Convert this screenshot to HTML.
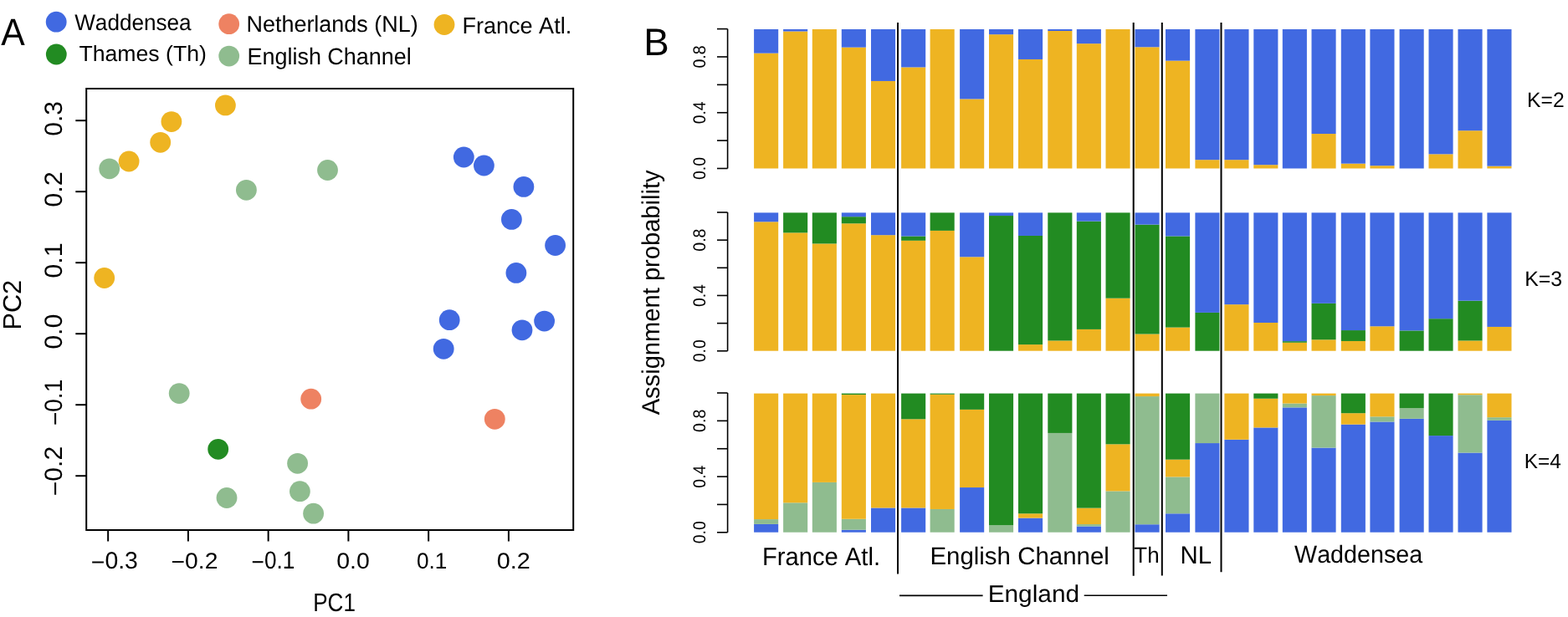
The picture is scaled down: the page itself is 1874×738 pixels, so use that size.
<!DOCTYPE html>
<html><head><meta charset="utf-8"><title>Figure</title>
<style>
html,body{margin:0;padding:0;background:#fff;}
body{width:1874px;height:738px;overflow:hidden;}
svg{display:block;font-family:"Liberation Sans",Arial,Helvetica,sans-serif;font-kerning:none;text-rendering:geometricPrecision;}
svg text{font-kerning:none;}
</style></head><body>
<svg width="1874" height="738" viewBox="0 0 1874 738">
<text transform="translate(1.22,54.00) scale(0.9381,1)" font-size="45.49" fill="#000">A</text>
<circle cx="67.2" cy="26.2" r="12.4" fill="#4169E1"/>
<circle cx="67.3" cy="65.0" r="12.4" fill="#228B22"/>
<circle cx="273.7" cy="28.7" r="12.4" fill="#EE8262"/>
<circle cx="273.7" cy="67.1" r="12.4" fill="#8FBC8F"/>
<circle cx="531.0" cy="29.5" r="12.4" fill="#EEB422"/>
<text transform="translate(89.19,35.70) scale(0.9716,1)" font-size="26.90" fill="#000">Waddensea</text>
<text transform="translate(94.40,73.30) scale(1.0120,1)" font-size="26.34" fill="#000">Thames (Th)</text>
<text transform="translate(294.49,38.00) scale(0.9860,1)" font-size="27.33" fill="#000">Netherlands (NL)</text>
<text transform="translate(295.49,77.00) scale(0.9663,1)" font-size="27.90" fill="#000">English Channel</text>
<text transform="translate(552.48,39.70) scale(0.9839,1)" font-size="27.47" fill="#000">France Atl.</text>
<rect x="103.2" y="106" width="582" height="528" fill="none" stroke="#000" stroke-width="2"/>
<line x1="129.15" y1="634" x2="129.15" y2="647.5" stroke="#000" stroke-width="2"/>
<line x1="224.9" y1="634" x2="224.9" y2="647.5" stroke="#000" stroke-width="2"/>
<line x1="320.65" y1="634" x2="320.65" y2="647.5" stroke="#000" stroke-width="2"/>
<line x1="416.4" y1="634" x2="416.4" y2="647.5" stroke="#000" stroke-width="2"/>
<line x1="512.15" y1="634" x2="512.15" y2="647.5" stroke="#000" stroke-width="2"/>
<line x1="607.9" y1="634" x2="607.9" y2="647.5" stroke="#000" stroke-width="2"/>
<line x1="90.3" y1="569.2" x2="103.2" y2="569.2" stroke="#000" stroke-width="2"/>
<line x1="90.3" y1="484.2" x2="103.2" y2="484.2" stroke="#000" stroke-width="2"/>
<line x1="90.3" y1="399.2" x2="103.2" y2="399.2" stroke="#000" stroke-width="2"/>
<line x1="90.3" y1="314.2" x2="103.2" y2="314.2" stroke="#000" stroke-width="2"/>
<line x1="90.3" y1="229.2" x2="103.2" y2="229.2" stroke="#000" stroke-width="2"/>
<line x1="90.3" y1="144.2" x2="103.2" y2="144.2" stroke="#000" stroke-width="2"/>
<text transform="translate(108.80,680.30) scale(0.9962,1)" font-size="28.50" fill="#000"><tspan dy="1.6">−</tspan><tspan dy="-1.6">0.3</tspan></text>
<text transform="translate(204.61,679.80) scale(1.0501,1)" font-size="26.92" fill="#000"><tspan dy="1.6">−</tspan><tspan dy="-1.6">0.2</tspan></text>
<text transform="translate(300.61,680.10) scale(0.8871,1)" font-size="29.50" fill="#000"><tspan dy="1.6">−</tspan><tspan dy="-1.6">0.1</tspan></text>
<text transform="translate(402.29,679.80) scale(1.0559,1)" font-size="26.92" fill="#000">0.0</text>
<text transform="translate(497.88,679.80) scale(0.9725,1)" font-size="26.92" fill="#000">0.1</text>
<text transform="translate(593.68,679.80) scale(1.0679,1)" font-size="26.92" fill="#000">0.2</text>
<text transform="translate(374.27,730.80) scale(0.8522,1)" font-size="30.52" fill="#000">PC1</text>
<text transform="translate(74.20,162.67) rotate(-90) scale(1.0067,1)" font-size="29.79" fill="#000">0.3</text>
<text transform="translate(74.20,247.80) rotate(-90) scale(1.0271,1)" font-size="29.79" fill="#000">0.2</text>
<text transform="translate(74.20,332.79) rotate(-90) scale(1.0260,1)" font-size="29.79" fill="#000">0.1</text>
<text transform="translate(74.20,417.78) rotate(-90) scale(1.0183,1)" font-size="29.79" fill="#000">0.0</text>
<text transform="translate(74.20,508.98) rotate(-90) scale(0.9377,1)" font-size="29.79" fill="#000"><tspan dy="1.6">−</tspan><tspan dy="-1.6">0.1</tspan></text>
<text transform="translate(74.20,593.28) rotate(-90) scale(1.0100,1)" font-size="29.79" fill="#000"><tspan dy="1.6">−</tspan><tspan dy="-1.6">0.2</tspan></text>
<text transform="translate(25.00,394.51) rotate(-90) scale(1.0029,1)" font-size="30.52" fill="#000">PC2</text>
<circle cx="269.4" cy="125.9" r="12.4" fill="#EEB422"/>
<circle cx="204.9" cy="145.6" r="12.4" fill="#EEB422"/>
<circle cx="191.7" cy="170.3" r="12.4" fill="#EEB422"/>
<circle cx="154.1" cy="193.0" r="12.4" fill="#EEB422"/>
<circle cx="124.7" cy="332.5" r="12.4" fill="#EEB422"/>
<circle cx="130.7" cy="201.8" r="12.4" fill="#8FBC8F"/>
<circle cx="294.4" cy="227.3" r="12.4" fill="#8FBC8F"/>
<circle cx="391.5" cy="203.5" r="12.4" fill="#8FBC8F"/>
<circle cx="214.2" cy="470.6" r="12.4" fill="#8FBC8F"/>
<circle cx="355.6" cy="554.3" r="12.4" fill="#8FBC8F"/>
<circle cx="358.4" cy="587.7" r="12.4" fill="#8FBC8F"/>
<circle cx="271.0" cy="595.5" r="12.4" fill="#8FBC8F"/>
<circle cx="374.6" cy="614.2" r="12.4" fill="#8FBC8F"/>
<circle cx="260.7" cy="537.3" r="12.4" fill="#228B22"/>
<circle cx="371.7" cy="477.2" r="12.4" fill="#EE8262"/>
<circle cx="591.3" cy="501.3" r="12.4" fill="#EE8262"/>
<circle cx="554.3" cy="188.0" r="12.4" fill="#4169E1"/>
<circle cx="578.4" cy="198.0" r="12.4" fill="#4169E1"/>
<circle cx="625.9" cy="223.4" r="12.4" fill="#4169E1"/>
<circle cx="611.4" cy="262.4" r="12.4" fill="#4169E1"/>
<circle cx="663.6" cy="293.5" r="12.4" fill="#4169E1"/>
<circle cx="616.9" cy="326.4" r="12.4" fill="#4169E1"/>
<circle cx="537.2" cy="382.7" r="12.4" fill="#4169E1"/>
<circle cx="530.2" cy="417.3" r="12.4" fill="#4169E1"/>
<circle cx="624.0" cy="394.8" r="12.4" fill="#4169E1"/>
<circle cx="650.6" cy="384.1" r="12.4" fill="#4169E1"/>
<text transform="translate(769.25,66.30) scale(0.9972,1)" font-size="45.79" fill="#000">B</text>
<rect x="901.10" y="63.64" width="29.10" height="137.86" fill="#EEB422"/>
<rect x="901.10" y="35.00" width="29.10" height="28.64" fill="#4169E1"/>
<rect x="901.10" y="265.31" width="29.10" height="154.39" fill="#EEB422"/>
<rect x="901.10" y="254.40" width="29.10" height="10.91" fill="#4169E1"/>
<rect x="901.10" y="626.90" width="29.10" height="9.80" fill="#4169E1"/>
<rect x="901.10" y="621.09" width="29.10" height="5.81" fill="#8FBC8F"/>
<rect x="901.10" y="470.60" width="29.10" height="150.49" fill="#EEB422"/>
<rect x="936.10" y="37.50" width="29.10" height="164.00" fill="#EEB422"/>
<rect x="936.10" y="35.00" width="29.10" height="2.50" fill="#4169E1"/>
<rect x="936.10" y="278.37" width="29.10" height="141.33" fill="#EEB422"/>
<rect x="936.10" y="254.40" width="29.10" height="23.97" fill="#228B22"/>
<rect x="936.10" y="601.32" width="29.10" height="35.38" fill="#8FBC8F"/>
<rect x="936.10" y="470.60" width="29.10" height="130.72" fill="#EEB422"/>
<rect x="970.80" y="35.00" width="29.10" height="166.50" fill="#EEB422"/>
<rect x="970.80" y="291.43" width="29.10" height="128.27" fill="#EEB422"/>
<rect x="970.80" y="254.40" width="29.10" height="37.03" fill="#228B22"/>
<rect x="970.80" y="576.90" width="29.10" height="59.80" fill="#8FBC8F"/>
<rect x="970.80" y="470.60" width="29.10" height="106.30" fill="#EEB422"/>
<rect x="1005.80" y="56.65" width="29.10" height="144.85" fill="#EEB422"/>
<rect x="1005.80" y="35.00" width="29.10" height="21.64" fill="#4169E1"/>
<rect x="1005.80" y="267.29" width="29.10" height="152.41" fill="#EEB422"/>
<rect x="1005.80" y="259.19" width="29.10" height="8.10" fill="#228B22"/>
<rect x="1005.80" y="254.40" width="29.10" height="4.79" fill="#4169E1"/>
<rect x="1005.80" y="633.71" width="29.10" height="2.99" fill="#4169E1"/>
<rect x="1005.80" y="620.77" width="29.10" height="12.94" fill="#8FBC8F"/>
<rect x="1005.80" y="472.09" width="29.10" height="148.68" fill="#EEB422"/>
<rect x="1005.80" y="470.60" width="29.10" height="1.49" fill="#228B22"/>
<rect x="1041.00" y="96.94" width="29.10" height="104.56" fill="#EEB422"/>
<rect x="1041.00" y="35.00" width="29.10" height="61.94" fill="#4169E1"/>
<rect x="1041.00" y="281.18" width="29.10" height="138.52" fill="#EEB422"/>
<rect x="1041.00" y="254.40" width="29.10" height="26.78" fill="#4169E1"/>
<rect x="1041.00" y="607.47" width="29.10" height="29.23" fill="#4169E1"/>
<rect x="1041.00" y="470.60" width="29.10" height="136.87" fill="#EEB422"/>
<rect x="1077.10" y="80.45" width="29.10" height="121.05" fill="#EEB422"/>
<rect x="1077.10" y="35.00" width="29.10" height="45.45" fill="#4169E1"/>
<rect x="1077.10" y="287.79" width="29.10" height="131.91" fill="#EEB422"/>
<rect x="1077.10" y="282.50" width="29.10" height="5.29" fill="#228B22"/>
<rect x="1077.10" y="254.40" width="29.10" height="28.10" fill="#4169E1"/>
<rect x="1077.10" y="607.47" width="29.10" height="29.23" fill="#4169E1"/>
<rect x="1077.10" y="501.33" width="29.10" height="106.14" fill="#EEB422"/>
<rect x="1077.10" y="470.60" width="29.10" height="30.73" fill="#228B22"/>
<rect x="1111.60" y="35.00" width="29.10" height="166.50" fill="#EEB422"/>
<rect x="1111.60" y="275.89" width="29.10" height="143.81" fill="#EEB422"/>
<rect x="1111.60" y="254.40" width="29.10" height="21.49" fill="#228B22"/>
<rect x="1111.60" y="608.96" width="29.10" height="27.74" fill="#8FBC8F"/>
<rect x="1111.60" y="471.76" width="29.10" height="137.20" fill="#EEB422"/>
<rect x="1111.60" y="470.60" width="29.10" height="1.16" fill="#228B22"/>
<rect x="1147.10" y="118.42" width="29.10" height="83.08" fill="#EEB422"/>
<rect x="1147.10" y="35.00" width="29.10" height="83.42" fill="#4169E1"/>
<rect x="1147.10" y="307.30" width="29.10" height="112.40" fill="#EEB422"/>
<rect x="1147.10" y="254.40" width="29.10" height="52.90" fill="#4169E1"/>
<rect x="1147.10" y="583.05" width="29.10" height="53.65" fill="#4169E1"/>
<rect x="1147.10" y="489.87" width="29.10" height="93.18" fill="#EEB422"/>
<rect x="1147.10" y="470.60" width="29.10" height="19.27" fill="#228B22"/>
<rect x="1182.00" y="41.16" width="29.10" height="160.34" fill="#EEB422"/>
<rect x="1182.00" y="35.00" width="29.10" height="6.16" fill="#4169E1"/>
<rect x="1182.00" y="258.04" width="29.10" height="161.66" fill="#228B22"/>
<rect x="1182.00" y="254.40" width="29.10" height="3.64" fill="#4169E1"/>
<rect x="1182.00" y="628.23" width="29.10" height="8.47" fill="#8FBC8F"/>
<rect x="1182.00" y="470.60" width="29.10" height="157.63" fill="#228B22"/>
<rect x="1217.00" y="70.96" width="29.10" height="130.54" fill="#EEB422"/>
<rect x="1217.00" y="35.00" width="29.10" height="35.96" fill="#4169E1"/>
<rect x="1217.00" y="412.10" width="29.10" height="7.60" fill="#EEB422"/>
<rect x="1217.00" y="281.98" width="29.10" height="130.13" fill="#228B22"/>
<rect x="1217.00" y="254.40" width="29.10" height="27.58" fill="#4169E1"/>
<rect x="1217.00" y="619.59" width="29.10" height="17.11" fill="#4169E1"/>
<rect x="1217.00" y="614.28" width="29.10" height="5.32" fill="#EEB422"/>
<rect x="1217.00" y="470.60" width="29.10" height="143.68" fill="#228B22"/>
<rect x="1252.30" y="37.00" width="29.10" height="164.50" fill="#EEB422"/>
<rect x="1252.30" y="35.00" width="29.10" height="2.00" fill="#4169E1"/>
<rect x="1252.30" y="407.47" width="29.10" height="12.23" fill="#EEB422"/>
<rect x="1252.30" y="254.40" width="29.10" height="153.07" fill="#228B22"/>
<rect x="1252.30" y="517.94" width="29.10" height="118.76" fill="#8FBC8F"/>
<rect x="1252.30" y="470.60" width="29.10" height="47.34" fill="#228B22"/>
<rect x="1286.80" y="52.15" width="29.10" height="149.35" fill="#EEB422"/>
<rect x="1286.80" y="35.00" width="29.10" height="17.15" fill="#4169E1"/>
<rect x="1286.80" y="393.91" width="29.10" height="25.79" fill="#EEB422"/>
<rect x="1286.80" y="264.65" width="29.10" height="129.26" fill="#228B22"/>
<rect x="1286.80" y="254.40" width="29.10" height="10.25" fill="#4169E1"/>
<rect x="1286.80" y="629.56" width="29.10" height="7.14" fill="#4169E1"/>
<rect x="1286.80" y="627.07" width="29.10" height="2.49" fill="#8FBC8F"/>
<rect x="1286.80" y="607.63" width="29.10" height="19.43" fill="#EEB422"/>
<rect x="1286.80" y="470.60" width="29.10" height="137.03" fill="#228B22"/>
<rect x="1321.50" y="35.00" width="29.10" height="166.50" fill="#EEB422"/>
<rect x="1321.50" y="356.72" width="29.10" height="62.98" fill="#EEB422"/>
<rect x="1321.50" y="254.40" width="29.10" height="102.32" fill="#228B22"/>
<rect x="1321.50" y="587.42" width="29.10" height="49.28" fill="#8FBC8F"/>
<rect x="1321.50" y="531.33" width="29.10" height="56.09" fill="#EEB422"/>
<rect x="1321.50" y="470.60" width="29.10" height="60.73" fill="#228B22"/>
<rect x="1356.50" y="56.31" width="29.10" height="145.19" fill="#EEB422"/>
<rect x="1356.50" y="35.00" width="29.10" height="21.31" fill="#4169E1"/>
<rect x="1356.50" y="399.53" width="29.10" height="20.17" fill="#EEB422"/>
<rect x="1356.50" y="268.62" width="29.10" height="130.92" fill="#228B22"/>
<rect x="1356.50" y="254.40" width="29.10" height="14.22" fill="#4169E1"/>
<rect x="1356.50" y="627.23" width="29.10" height="9.47" fill="#4169E1"/>
<rect x="1356.50" y="474.09" width="29.10" height="153.14" fill="#8FBC8F"/>
<rect x="1356.50" y="470.60" width="29.10" height="3.49" fill="#EEB422"/>
<rect x="1393.00" y="72.63" width="29.10" height="128.87" fill="#EEB422"/>
<rect x="1393.00" y="35.00" width="29.10" height="37.63" fill="#4169E1"/>
<rect x="1393.00" y="391.63" width="29.10" height="28.07" fill="#EEB422"/>
<rect x="1393.00" y="282.47" width="29.10" height="109.15" fill="#228B22"/>
<rect x="1393.00" y="254.40" width="29.10" height="28.07" fill="#4169E1"/>
<rect x="1393.00" y="614.28" width="29.10" height="22.42" fill="#4169E1"/>
<rect x="1393.00" y="570.43" width="29.10" height="43.85" fill="#8FBC8F"/>
<rect x="1393.00" y="549.66" width="29.10" height="20.76" fill="#EEB422"/>
<rect x="1393.00" y="470.60" width="29.10" height="79.06" fill="#228B22"/>
<rect x="1428.40" y="191.18" width="29.10" height="10.32" fill="#EEB422"/>
<rect x="1428.40" y="35.00" width="29.10" height="156.18" fill="#4169E1"/>
<rect x="1428.40" y="373.91" width="29.10" height="45.79" fill="#228B22"/>
<rect x="1428.40" y="254.40" width="29.10" height="119.51" fill="#4169E1"/>
<rect x="1428.40" y="530.06" width="29.10" height="106.64" fill="#4169E1"/>
<rect x="1428.40" y="470.60" width="29.10" height="59.46" fill="#8FBC8F"/>
<rect x="1463.40" y="191.18" width="29.10" height="10.32" fill="#EEB422"/>
<rect x="1463.40" y="35.00" width="29.10" height="156.18" fill="#4169E1"/>
<rect x="1463.40" y="364.16" width="29.10" height="55.54" fill="#EEB422"/>
<rect x="1463.40" y="254.40" width="29.10" height="109.76" fill="#4169E1"/>
<rect x="1463.40" y="525.75" width="29.10" height="110.95" fill="#4169E1"/>
<rect x="1463.40" y="470.60" width="29.10" height="55.15" fill="#EEB422"/>
<rect x="1498.30" y="197.17" width="29.10" height="4.33" fill="#EEB422"/>
<rect x="1498.30" y="35.00" width="29.10" height="162.17" fill="#4169E1"/>
<rect x="1498.30" y="385.98" width="29.10" height="33.72" fill="#EEB422"/>
<rect x="1498.30" y="254.40" width="29.10" height="131.58" fill="#4169E1"/>
<rect x="1498.30" y="511.42" width="29.10" height="125.28" fill="#4169E1"/>
<rect x="1498.30" y="476.74" width="29.10" height="34.68" fill="#EEB422"/>
<rect x="1498.30" y="470.60" width="29.10" height="6.14" fill="#228B22"/>
<rect x="1532.80" y="35.00" width="29.10" height="166.50" fill="#4169E1"/>
<rect x="1532.80" y="409.77" width="29.10" height="9.93" fill="#EEB422"/>
<rect x="1532.80" y="408.12" width="29.10" height="1.65" fill="#228B22"/>
<rect x="1532.80" y="254.40" width="29.10" height="153.72" fill="#4169E1"/>
<rect x="1532.80" y="487.38" width="29.10" height="149.32" fill="#4169E1"/>
<rect x="1532.80" y="482.56" width="29.10" height="4.82" fill="#8FBC8F"/>
<rect x="1532.80" y="470.60" width="29.10" height="11.96" fill="#EEB422"/>
<rect x="1567.50" y="160.04" width="29.10" height="41.46" fill="#EEB422"/>
<rect x="1567.50" y="35.00" width="29.10" height="125.04" fill="#4169E1"/>
<rect x="1567.50" y="406.31" width="29.10" height="13.39" fill="#EEB422"/>
<rect x="1567.50" y="362.84" width="29.10" height="43.47" fill="#228B22"/>
<rect x="1567.50" y="254.40" width="29.10" height="108.44" fill="#4169E1"/>
<rect x="1567.50" y="535.55" width="29.10" height="101.15" fill="#4169E1"/>
<rect x="1567.50" y="473.09" width="29.10" height="62.45" fill="#8FBC8F"/>
<rect x="1567.50" y="470.60" width="29.10" height="2.49" fill="#EEB422"/>
<rect x="1602.80" y="195.67" width="29.10" height="5.83" fill="#EEB422"/>
<rect x="1602.80" y="35.00" width="29.10" height="160.67" fill="#4169E1"/>
<rect x="1602.80" y="407.96" width="29.10" height="11.74" fill="#EEB422"/>
<rect x="1602.80" y="395.07" width="29.10" height="12.89" fill="#228B22"/>
<rect x="1602.80" y="254.40" width="29.10" height="140.67" fill="#4169E1"/>
<rect x="1602.80" y="507.64" width="29.10" height="129.06" fill="#4169E1"/>
<rect x="1602.80" y="494.19" width="29.10" height="13.45" fill="#EEB422"/>
<rect x="1602.80" y="470.60" width="29.10" height="23.59" fill="#228B22"/>
<rect x="1637.40" y="198.17" width="29.10" height="3.33" fill="#EEB422"/>
<rect x="1637.40" y="35.00" width="29.10" height="163.17" fill="#4169E1"/>
<rect x="1637.40" y="390.28" width="29.10" height="29.42" fill="#EEB422"/>
<rect x="1637.40" y="254.40" width="29.10" height="135.88" fill="#4169E1"/>
<rect x="1637.40" y="504.48" width="29.10" height="132.22" fill="#4169E1"/>
<rect x="1637.40" y="498.34" width="29.10" height="6.15" fill="#8FBC8F"/>
<rect x="1637.40" y="470.60" width="29.10" height="27.74" fill="#EEB422"/>
<rect x="1672.60" y="35.00" width="29.10" height="166.50" fill="#4169E1"/>
<rect x="1672.60" y="395.40" width="29.10" height="24.30" fill="#228B22"/>
<rect x="1672.60" y="254.40" width="29.10" height="141.00" fill="#4169E1"/>
<rect x="1672.60" y="500.83" width="29.10" height="135.87" fill="#4169E1"/>
<rect x="1672.60" y="488.21" width="29.10" height="12.62" fill="#8FBC8F"/>
<rect x="1672.60" y="470.60" width="29.10" height="17.61" fill="#228B22"/>
<rect x="1707.50" y="184.35" width="29.10" height="17.15" fill="#EEB422"/>
<rect x="1707.50" y="35.00" width="29.10" height="149.35" fill="#4169E1"/>
<rect x="1707.50" y="381.19" width="29.10" height="38.51" fill="#228B22"/>
<rect x="1707.50" y="254.40" width="29.10" height="126.79" fill="#4169E1"/>
<rect x="1707.50" y="521.09" width="29.10" height="115.61" fill="#4169E1"/>
<rect x="1707.50" y="470.60" width="29.10" height="50.49" fill="#228B22"/>
<rect x="1742.50" y="156.21" width="29.10" height="45.29" fill="#EEB422"/>
<rect x="1742.50" y="35.00" width="29.10" height="121.21" fill="#4169E1"/>
<rect x="1742.50" y="407.47" width="29.10" height="12.23" fill="#EEB422"/>
<rect x="1742.50" y="359.70" width="29.10" height="47.77" fill="#228B22"/>
<rect x="1742.50" y="254.40" width="29.10" height="105.30" fill="#4169E1"/>
<rect x="1742.50" y="541.52" width="29.10" height="95.18" fill="#4169E1"/>
<rect x="1742.50" y="472.26" width="29.10" height="69.26" fill="#8FBC8F"/>
<rect x="1742.50" y="470.60" width="29.10" height="1.66" fill="#EEB422"/>
<rect x="1777.40" y="198.67" width="29.10" height="2.83" fill="#EEB422"/>
<rect x="1777.40" y="35.00" width="29.10" height="163.67" fill="#4169E1"/>
<rect x="1777.40" y="390.94" width="29.10" height="28.76" fill="#EEB422"/>
<rect x="1777.40" y="254.40" width="29.10" height="136.54" fill="#4169E1"/>
<rect x="1777.40" y="502.82" width="29.10" height="133.88" fill="#4169E1"/>
<rect x="1777.40" y="499.17" width="29.10" height="3.65" fill="#8FBC8F"/>
<rect x="1777.40" y="470.60" width="29.10" height="28.57" fill="#EEB422"/>
<line x1="869.6" y1="34.6" x2="869.6" y2="201.5" stroke="#000" stroke-width="1.6"/>
<line x1="857.0" y1="201.5" x2="869.6" y2="201.5" stroke="#000" stroke-width="1.6"/>
<line x1="857.0" y1="168.12" x2="869.6" y2="168.12" stroke="#000" stroke-width="1.6"/>
<line x1="857.0" y1="134.74" x2="869.6" y2="134.74" stroke="#000" stroke-width="1.6"/>
<line x1="857.0" y1="101.36" x2="869.6" y2="101.36" stroke="#000" stroke-width="1.6"/>
<line x1="857.0" y1="67.98" x2="869.6" y2="67.98" stroke="#000" stroke-width="1.6"/>
<line x1="857.0" y1="34.6" x2="869.6" y2="34.6" stroke="#000" stroke-width="1.6"/>
<text transform="translate(842.70,215.06) rotate(-90) scale(0.9332,1)" font-size="20.91" fill="#000">0.0</text>
<text transform="translate(842.70,148.30) rotate(-90) scale(0.9263,1)" font-size="20.91" fill="#000">0.4</text>
<text transform="translate(842.70,81.54) rotate(-90) scale(0.9363,1)" font-size="20.91" fill="#000">0.8</text>
<line x1="869.6" y1="254.0" x2="869.6" y2="419.8" stroke="#000" stroke-width="1.6"/>
<line x1="857.0" y1="419.8" x2="869.6" y2="419.8" stroke="#000" stroke-width="1.6"/>
<line x1="857.0" y1="386.64" x2="869.6" y2="386.64" stroke="#000" stroke-width="1.6"/>
<line x1="857.0" y1="353.48" x2="869.6" y2="353.48" stroke="#000" stroke-width="1.6"/>
<line x1="857.0" y1="320.32" x2="869.6" y2="320.32" stroke="#000" stroke-width="1.6"/>
<line x1="857.0" y1="287.16" x2="869.6" y2="287.16" stroke="#000" stroke-width="1.6"/>
<line x1="857.0" y1="254.0" x2="869.6" y2="254.0" stroke="#000" stroke-width="1.6"/>
<text transform="translate(842.70,433.36) rotate(-90) scale(0.9332,1)" font-size="20.91" fill="#000">0.0</text>
<text transform="translate(842.70,367.04) rotate(-90) scale(0.9263,1)" font-size="20.91" fill="#000">0.4</text>
<text transform="translate(842.70,300.72) rotate(-90) scale(0.9363,1)" font-size="20.91" fill="#000">0.8</text>
<line x1="869.6" y1="470.0" x2="869.6" y2="636.8" stroke="#000" stroke-width="1.6"/>
<line x1="857.0" y1="636.8" x2="869.6" y2="636.8" stroke="#000" stroke-width="1.6"/>
<line x1="857.0" y1="603.44" x2="869.6" y2="603.44" stroke="#000" stroke-width="1.6"/>
<line x1="857.0" y1="570.08" x2="869.6" y2="570.08" stroke="#000" stroke-width="1.6"/>
<line x1="857.0" y1="536.72" x2="869.6" y2="536.72" stroke="#000" stroke-width="1.6"/>
<line x1="857.0" y1="503.36" x2="869.6" y2="503.36" stroke="#000" stroke-width="1.6"/>
<line x1="857.0" y1="470.0" x2="869.6" y2="470.0" stroke="#000" stroke-width="1.6"/>
<text transform="translate(842.70,650.36) rotate(-90) scale(0.9332,1)" font-size="20.91" fill="#000">0.0</text>
<text transform="translate(842.70,583.64) rotate(-90) scale(0.9263,1)" font-size="20.91" fill="#000">0.4</text>
<text transform="translate(842.70,516.92) rotate(-90) scale(0.9363,1)" font-size="20.91" fill="#000">0.8</text>
<text transform="translate(787.50,496.36) rotate(-90) scale(0.9794,1)" font-size="29.74" fill="#000">Assignment probability</text>
<text transform="translate(1825.08,128.00) scale(0.9807,1)" font-size="25.15" fill="#000">K=2</text>
<text transform="translate(1822.16,341.70) scale(0.9969,1)" font-size="25.00" fill="#000">K=3</text>
<text transform="translate(1821.80,560.00) scale(0.9856,1)" font-size="24.71" fill="#000">K=4</text>
<line x1="1073.0" y1="27.0" x2="1073.0" y2="686.5" stroke="#000" stroke-width="2"/>
<line x1="1354.7" y1="27.0" x2="1354.7" y2="688.8" stroke="#000" stroke-width="2"/>
<line x1="1388.8" y1="27.0" x2="1388.8" y2="688.6" stroke="#000" stroke-width="2"/>
<line x1="1459.5" y1="27.0" x2="1459.5" y2="684.3" stroke="#000" stroke-width="2"/>
<text transform="translate(910.91,676.10) scale(0.9680,1)" font-size="30.16" fill="#000">France Atl.</text>
<text transform="translate(1111.38,675.00) scale(1.0052,1)" font-size="29.31" fill="#000">English Channel</text>
<text transform="translate(1355.32,673.30) scale(0.9795,1)" font-size="26.48" fill="#000">Th</text>
<text transform="translate(1410.59,674.00) scale(0.9820,1)" font-size="29.94" fill="#000">NL</text>
<text transform="translate(1547.07,673.00) scale(0.9748,1)" font-size="29.45" fill="#000">Waddensea</text>
<text transform="translate(1180.65,720.20) scale(1.0428,1)" font-size="28.60" fill="#000">England</text>
<line x1="1075.0" y1="712.4" x2="1174.6" y2="712.4" stroke="#000" stroke-width="1.6"/>
<line x1="1295.7" y1="712.3" x2="1395.0" y2="712.3" stroke="#000" stroke-width="1.6"/>
</svg>
</body></html>
